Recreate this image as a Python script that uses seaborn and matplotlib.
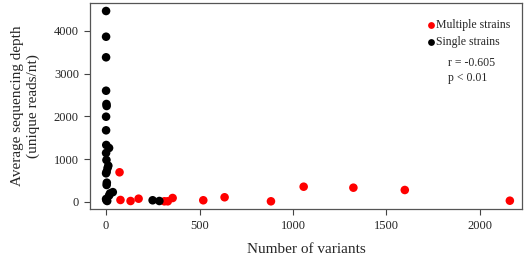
import numpy as np
import pandas as pd
import seaborn as sns
import matplotlib.pyplot as plt

# single strain samples
single_x = [0, 0, 0, 0, 2, 3, 0, 0, 1, 16, 0, 2, 12, 8, 3, 0, 4, 3, 21, 36, 16, 0, 6, 2, 249, 285]
single_y = [4463, 3862, 3381, 2600, 2290, 2243, 1993, 1675, 1332, 1262, 1145, 981, 848, 794, 708, 670,
            451, 397, 200, 230, 150, 70, 23, 40, 40, 23]

# multiple strain samples
multi_x = [72, 77, 131, 174, 312, 330, 356, 520, 634, 882, 1057, 1323, 1598, 2160]
multi_y = [694, 47, 23, 77, 16, 16, 93, 40, 110, 16, 357, 334, 280, 30]

groups = ['Multiple strains', 'Single strains']

df = pd.DataFrame({
    'variants': multi_x + single_x,
    'depth': multi_y + single_y,
    'group': [groups[0]] * len(multi_x) + [groups[1]] * len(single_x),
})

sns.set_style('white')
plt.rcParams['font.family'] = ['Liberation Serif', 'DejaVu Serif']

fig = plt.figure(figsize=(5.25, 2.59), dpi=100)
ax = fig.add_axes([90 / 525, 50 / 259, 432 / 525, 206 / 259])

sns.scatterplot(data=df, x='variants', y='depth', hue='group', hue_order=groups,
                palette={'Multiple strains': 'red', 'Single strains': 'black'},
                s=38, linewidth=0, ax=ax, legend=False)

ax.set_xlim(-86, 2225)
ax.set_ylim(-164, 4650)
ax.set_xticks([0, 500, 1000, 1500, 2000])
ax.set_yticks([0, 1000, 2000, 3000, 4000])
ax.tick_params(axis='both', direction='out', length=4, width=0.8, color='#444444',
               labelsize=9, pad=4, left=True, bottom=True)
for s in ax.spines.values():
    s.set_color('#555555')
    s.set_linewidth(0.9)

ax.set_xlabel('Number of variants', fontsize=11, labelpad=8)
ax.set_ylabel('Average sequencing depth\n(unique reads/nt)', fontsize=11, labelpad=10,
              linespacing=1.2)

# legend
ax.scatter([0.789], [0.893], transform=ax.transAxes, s=24, color='red', linewidth=0)
ax.scatter([0.789], [0.811], transform=ax.transAxes, s=24, color='black', linewidth=0)
ax.text(0.802, 0.893, groups[0], transform=ax.transAxes, fontsize=8.5, va='center')
ax.text(0.802, 0.811, groups[1], transform=ax.transAxes, fontsize=8.5, va='center')

ax.text(0.829, 0.709, 'r = -0.605', transform=ax.transAxes, fontsize=8.5, va='center')
ax.text(0.829, 0.636, 'p < 0.01', transform=ax.transAxes, fontsize=8.5, va='center')

fig.savefig('out.png', dpi=100)
